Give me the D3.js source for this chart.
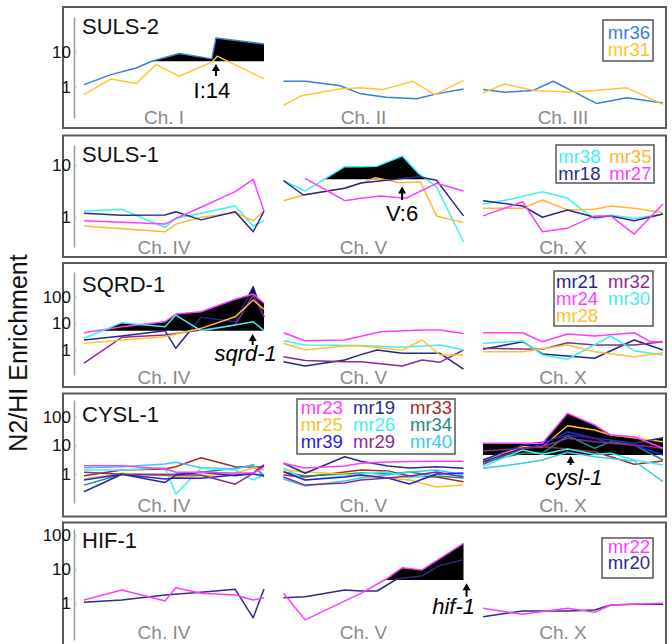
<!DOCTYPE html>
<html><head><meta charset="utf-8">
<script src="https://cdn.jsdelivr.net/npm/d3@7"></script>
<style>body{margin:0;background:#fff}svg{display:block}text{font-family:"Liberation Sans",Arial,Helvetica,sans-serif}</style>
</head><body><svg id="c" width="672" height="644"></svg>
<script>
// ---------------- DATA ----------------
const panelTitles = ["SULS-2", "SULS-1", "SQRD-1", "CYSL-1", "HIF-1"];
const chromLabels = [["Ch. I","Ch. II","Ch. III"],["Ch. IV","Ch. V","Ch. X"],["Ch. IV","Ch. V","Ch. X"],["Ch. IV","Ch. V","Ch. X"],["Ch. IV","Ch. V","Ch. X"]];
const yTickValues = [[1,10],[1,10],[1,10,100],[1,10,100],[1,10,100]];
const thresholds = [5.3, 5.3, 5.3, 4.6, 4.9];
const qtlChrom = [0, 1, 0, 2, 1];
const markerLabels = ["I:14", "V:6", "sqrd-1", "cysl-1", "hif-1"];
const markerItalic = [false, false, true, true, true];
const markerPos = [0.733, 0.659, 0.937, 0.487, 1.017];

const suls2Series = [
  {name:"mr36", color:"#3b7ddd", data:[
    [[0,1.14],[0.15,2.2],[0.29,3.4],[0.376,5.3],[0.53,8.8],[0.71,6.2],[0.733,24.6],[1,16.6]],
    [[0,1.42],[0.12,1.42],[0.31,1.07],[0.43,0.62],[0.57,0.5],[0.74,0.45],[0.85,0.62],[1,0.86]],
    [[0,0.82],[0.12,0.69],[0.28,0.78],[0.39,1.42],[0.5,0.73],[0.63,0.33],[0.8,0.48],[1,0.34]]]},
  {name:"mr31", color:"#ffc629", data:[
    [[0,0.59],[0.15,1.66],[0.29,1.22],[0.40,4.3],[0.53,1.97],[0.71,5.0],[0.74,7.4],[1,1.66]],
    [[0,0.29],[0.1,0.55],[0.31,0.86],[0.43,0.92],[0.55,0.82],[0.72,1.42],[0.84,0.59],[1,1.51]],
    [[0,0.66],[0.12,1.19],[0.28,0.78],[0.5,0.69],[0.8,0.92],[1,0.31]]]}
];

const suls1Series = [
  {name:"mr38", color:"#3ff0f0", data:[
    [[0,1.30],[0.21,1.41],[0.45,0.63],[0.51,0.94],[0.84,1.63],[0.94,0.67],[1,0.85]],
    [[0,5.0],[0.12,3.16],[0.34,9.3],[0.43,9.3],[0.52,9.5],[0.66,14.9],[0.75,6.9],[0.85,3.8],[1,0.33]],
    [[0,1.78],[0.13,2.12],[0.33,3.07],[0.47,2.29],[0.62,0.90],[0.71,1.09],[0.84,0.94],[1,1.14]]]},
  {name:"mr35", color:"#ffb830", data:[
    [[0,0.67],[0.45,0.52],[0.51,0.73],[0.65,0.99],[0.84,1.21],[0.94,0.85],[1,1.30]],
    [[0,2.06],[0.11,2.65],[0.34,3.56],[0.43,4.44],[0.51,5.7],[0.65,4.57],[0.76,4.77],[0.85,1.05],[1,0.78]],
    [[0,1.47],[0.22,1.47],[0.33,2.12],[0.47,1.36],[0.62,1.41],[0.71,1.63],[0.84,1.47],[1,1.21]]]},
  {name:"mr18", color:"#2a2a8a", data:[
    [[0,1.18],[0.21,1.08],[0.45,1.09],[0.51,1.26],[0.65,0.88],[0.84,1.26],[0.94,0.52],[1,1.30]],
    [[0,5.0],[0.11,2.65],[0.34,3.56],[0.43,4.5],[0.75,5.95],[0.85,5.1],[1,1.05]],
    [[0,2.06],[0.22,1.63],[0.33,0.99],[0.47,1.36],[0.62,0.99],[0.71,1.05],[0.84,0.85],[1,1.14]]]},
  {name:"mr27", color:"#ff3cff", data:[
    [[0,0.85],[0.45,0.73],[0.51,0.94],[0.65,1.54],[0.84,3.07],[0.94,5.3],[1,1.30]],
    [[0.12,5.55],[0.34,2.06],[0.43,2.29],[0.54,2.53],[0.68,2.29],[0.85,4.44],[1,3.16]],
    [[0,1.05],[0.22,1.97],[0.33,0.52],[0.47,0.61],[0.62,1.05],[0.71,1.05],[0.84,0.47],[1,1.78]]]}
];

const sqrd1Series = [
  {name:"mr21", color:"#24248a", data:[
    [[0,2.37],[0.21,3.35],[0.45,5.3],[0.51,1.16],[0.65,16.8],[0.84,11.5],[0.94,237],[1,16.8]],
    [[0,0.36],[0.12,0.25],[0.34,0.42],[0.43,0.67],[0.52,1.0],[0.66,0.75],[0.77,0.75],[0.87,0.75],[1,0.19]],
    [[0,1.06],[0.22,2.05],[0.33,0.71],[0.62,0.49],[0.84,2.37],[1,1.0]]]},
  {name:"mr32", color:"#8e2a8e", data:[
    [[0,0.32],[0.21,3.0],[0.45,3.65],[0.65,5.6],[0.84,8.7],[0.94,116],[1,17.7]],
    [[0,0.56],[0.12,0.40],[0.34,0.36],[0.43,0.36],[0.66,0.25],[0.77,0.42],[0.87,0.35],[1,1.0]],
    [[0,1.16],[0.33,1.06],[0.47,1.88],[0.62,1.54],[0.84,1.54],[1,2.05]]]},
  {name:"mr24", color:"#ff3cff", data:[
    [[0,4.45],[0.21,7.5],[0.45,11.5],[0.51,22.4],[0.65,27.3],[0.84,80],[0.94,126],[1,57]],
    [[0,4.45],[0.12,2.23],[0.34,2.37],[0.43,3.27],[0.54,4.86],[0.77,5.6],[0.87,5.6],[1,4.2]],
    [[0,4.45],[0.22,4.45],[0.33,2.05],[0.47,3.98],[0.62,3.35],[0.84,4.45],[0.93,2.05],[1,2.05]]]},
  {name:"mr30", color:"#3ff0f0", data:[
    [[0,2.75],[0.21,10.6],[0.45,7.5],[0.51,20.5],[0.65,5.3],[0.84,8.7],[0.94,11.5],[1,5.3]],
    [[0,2.23],[0.12,1.54],[0.43,1.47],[0.66,1.26],[0.87,1.54],[1,1.0]],
    [[0,1.78],[0.22,2.18],[0.33,0.65],[0.47,0.45],[0.71,3.35],[0.84,0.94],[1,0.65]]]},
  {name:"mr28", color:"#ffc12e", data:[
    [[0,1.78],[0.21,2.37],[0.45,3.16],[0.65,6.5],[0.84,17.7],[0.94,75],[1,33.7]],
    [[0,1.78],[0.12,1.0],[0.34,1.41],[0.43,1.41],[0.66,1.0],[0.77,2.37],[0.87,0.65],[1,0.65]],
    [[0,0.86],[0.22,0.86],[0.47,1.54],[0.62,0.86],[0.84,0.56],[1,0.79]]]}
];

// CYSL-1: shared marker positions per chromosome
const cyslPositions = [[0,0.21,0.45,0.51,0.65,0.84,0.94,1],[0,0.12,0.34,0.43,0.58,0.7,0.85,1],[0,0.22,0.33,0.47,0.62,0.71,0.84,1]];
const mr23Values = [[1.95,1.95,1.49,1.15,1.15,1.08,1.08,1.75],[2.36,1.62,1.9,2.36,2.6,2.7,2.8,2.8],[11.7,11.7,11.7,130,51,22.8,19.9,7.9]];
const mr19Values = [[0.24,0.98,0.51,0.92,1.15,0.87,1.08,2.06],[2.36,1.06,4.0,2.8,1.9,1.62,1.8,1.58],[3.07,10.2,12.7,22.8,17.5,15.3,11.7,18.4]];
const mr33Values = [[0.87,1.38,1.49,1.8,3.7,1.8,1.75,1.8],[0.92,0.79,1.17,1.38,1.27,0.85,0.79,0.54],[2.18,7.9,8.9,7.4,6.0,4.0,2.18,2.84]];
const mr25Values = [[0.67,1.06,0.87,0.8,0.85,1.06,1.66,1.38],[1.38,1.17,1.0,0.85,0.73,0.62,0.35,0.41],[3.07,8.9,8.9,48,34,22.8,18.4,13.4]];
const mr26Values = [[1.38,1.38,1.66,0.2,1.58,1.38,0.62,0.92],[1.62,0.62,0.85,1.0,1.17,0.73,1.0,0.85],[1.8,6.9,4.9,7.4,4.9,5.3,3.07,2.06]];
const mr34Values = [[0.41,0.98,0.98,1.0,1.15,1.58,2.06,0.8],[1.17,0.85,1.0,1.08,1.0,1.17,0.85,0.73],[2.56,5.3,5.3,21.6,7.9,13.4,10.2,3.07]];
const mr39Values = [[0.62,0.98,0.67,0.73,0.71,0.92,1.0,0.87],[1.2,0.62,0.79,0.92,0.73,0.45,1.0,1.08],[2.68,7.9,10.2,29.8,17.5,11.7,10.2,4.6]];
const mr29Values = [[1.15,0.98,0.92,0.92,0.92,0.44,1.06,2.06],[0.79,0.41,0.49,0.62,0.73,0.85,1.17,0.79],[6.3,7.9,8.9,17.5,13.4,11.7,10.2,7.9]];
const mr40Values = [[1.66,1.8,2.23,2.55,1.66,1.49,2.06,0.92],[0.67,0.38,0.57,0.73,0.92,1.17,1.38,0.92],[1.58,2.36,3.07,5.7,4.0,3.5,2.84,0.54]];
const cyslNames = ["mr33","mr34","mr40","mr26","mr25","mr39","mr29","mr19","mr23"];
const cyslColors = ["#a52a2a","#1f8a7f","#3cc8f5","#3ff0f0","#ffc020","#2222ee","#8e2a8e","#2b2b8c","#ff3cff"];
const cyslValues = [mr33Values,mr34Values,mr40Values,mr26Values,mr25Values,mr39Values,mr29Values,mr19Values,mr23Values];
const cysl1Series = cyslNames.map((n,i) => ({name:n, color:cyslColors[i],
  data: cyslValues[i].map((vals,c) => vals.map((v,k) => [cyslPositions[c][k], v]))}));

const hif1Series = [
  {name:"mr20", color:"#2b2b8c", data:[
    [[0,1.08],[0.21,1.27],[0.45,1.78],[0.65,2.14],[0.84,2.61],[0.94,0.38],[1,2.67]],
    [[0,1.48],[0.12,1.58],[0.34,2.49],[0.43,2.33],[0.52,2.33],[0.63,5.25],[0.77,6.5],[0.86,12.6],[1,19.5]],
    [[0,0.41],[0.22,0.60],[0.47,0.60],[0.62,0.64],[0.71,0.90],[0.84,0.95],[1,0.95]]]},
  {name:"mr22", color:"#ff3cff", data:[
    [[0,1.27],[0.21,2.5],[0.45,1.18],[0.51,2.92],[0.65,1.99],[0.84,1.78],[0.94,1.27],[1,1.48]],
    [[0,1.99],[0.12,0.33],[0.43,1.99],[0.57,5.25],[0.66,11.3],[0.77,9.7],[1,58.8]],
    [[0,0.72],[0.22,0.48],[0.47,0.72],[0.62,0.55],[0.71,0.90],[1,1.01]]]}
];

const panelSeries = [suls2Series, suls1Series, sqrd1Series, cysl1Series, hif1Series];
const legendGrid = [["mr36","mr31"],["mr38","mr35","mr18","mr27"],["mr21","mr32","mr24","mr30","mr28"],
  ["mr23","mr19","mr33","mr25","mr26","mr34","mr39","mr29","mr40"],["mr22","mr20"]];

// ---------------- LAYOUT ----------------
const W = 672, H = 644;
const boxLeft = 63, boxRight = 666;
const boxTop = [7,135.5,263,393.5,522.5], boxBottom = [128,257,387,516.5,652];
const axisTop = [17,145,272,400,529], axisBottom = [118,247,375,503,640];
const y1px = [86.6,217,350,474,603.5], decPx = [35,52,26.65,28.7,34];
const titleBase = [34,162.3,292,422.3,548.3];
const chromLabelY = [123.5,254,384,512,639];
const legendBox = [[603,20,50,41],[556,145,98,38],[554,271,99,55],[297,399,158,55],[602,538,51,40]];
const legendCols = [[650],[558.3,609.3],[556,608],[300.7,353,410],[650]];
const legendAnchor = ["end","start","start","start","end"];
const legendRow0 = [38.8,162.8,288,414,552.5];
const legendStep = [16.7,16.7,17,17,16];
const arrowBottom = [76,200,345,465,596.7], arrowHead = [64,186.5,334,456,583.3];
const markerTextDx = [-4,0,-7,3,-13], markerTextY = [98,220.7,360.7,485,614];

const svg = d3.select("#c");
svg.append("rect").attr("width",W).attr("height",H).attr("fill","#fff");

const xBand = d3.scaleBand().domain([0,1,2]).range([84,663]).paddingInner(0.0977);

function interpLog(pts, x){
  const n = pts.length;
  if (x < pts[0][0]-1e-9 || x > pts[n-1][0]+1e-9) return null;
  for (let i=0;i<n-1;i++){
    const a=pts[i], b=pts[i+1];
    if (x >= a[0]-1e-9 && x <= b[0]+1e-9){
      const t = b[0]===a[0] ? 0 : (x-a[0])/(b[0]-a[0]);
      return Math.exp(Math.log(a[1]) + t*(Math.log(b[1])-Math.log(a[1])));
    }
  }
  return pts[n-1][1];
}

svg.append("text").attr("transform","translate(27,353) rotate(-90)")
  .attr("text-anchor","middle").attr("font-size",25).attr("fill","#111").text("N2/HI Enrichment");

panelTitles.forEach((title, p) => {
  const g = svg.append("g");
  g.append("rect").attr("x",boxLeft).attr("y",boxTop[p]).attr("width",boxRight-boxLeft)
    .attr("height",boxBottom[p]-boxTop[p]).attr("fill","#fff").attr("stroke","#5a5a5a").attr("stroke-width",2);

  const lo = Math.pow(10,(y1px[p]-axisBottom[p])/decPx[p]);
  const hi = Math.pow(10,(y1px[p]-axisTop[p])/decPx[p]);
  const y = d3.scaleLog().domain([lo,hi]).range([axisBottom[p],axisTop[p]]);

  const ax = g.append("g").attr("transform","translate(74,0)")
    .call(d3.axisLeft(y).tickValues(yTickValues[p]).tickFormat(d3.format("d")).tickSizeInner(-3).tickSizeOuter(0).tickPadding(3));
  ax.select(".domain").attr("stroke","#999").attr("stroke-width",1.5);
  ax.selectAll(".tick line").attr("stroke","#bbb");
  ax.selectAll(".tick text").attr("font-size",17).attr("fill","#111").attr("font-family","Liberation Sans, Arial, sans-serif");

  g.append("text").attr("x",82).attr("y",titleBase[p]).attr("font-size",22).attr("fill","#111").text(title);

  const series = panelSeries[p];
  // QTL fill: between threshold and the upper envelope of all strains, where it exceeds the threshold
  const c = qtlChrom[p];
  const xc = d3.scaleLinear().domain([0,1]).range([xBand(c), xBand(c)+xBand.bandwidth()]);
  const xsSet = new Set(d3.range(0,1.00001,0.001).map(v=>+v.toFixed(4)));
  series.forEach(s => s.data[c].forEach(d => xsSet.add(d[0])));
  const xs = Array.from(xsSet).sort((a,b)=>a-b);
  const env = [];
  xs.forEach(x => {
    let m = null;
    series.forEach(s => { const v = interpLog(s.data[c], x); if (v!==null && (m===null || v>m)) m = v; });
    if (m!==null) env.push([x,m]);
  });
  const thr = thresholds[p];
  const thrY = y(thr);
  g.append("path").datum(env)
    .attr("d", d3.area().x(d=>xc(d[0])).y0(thrY).y1(d=>y(Math.max(d[1],thr))))
    .attr("fill","#000");

  // lines
  [0,1,2].forEach(ci => {
    const xs2 = d3.scaleLinear().domain([0,1]).range([xBand(ci), xBand(ci)+xBand.bandwidth()]);
    const line = d3.line().x(d=>xs2(d[0])).y(d=>y(d[1]));
    series.forEach(s => {
      g.append("path").datum(s.data[ci]).attr("d",line).attr("fill","none")
        .attr("stroke",s.color).attr("stroke-width",1.5).attr("stroke-linejoin","round");
    });
    g.append("text").attr("x",xBand(ci)+xBand.bandwidth()/2-10).attr("y",chromLabelY[p])
      .attr("text-anchor","middle").attr("font-size",19).attr("fill","#8a8a8a").text(chromLabels[p][ci]);
  });

  // marker arrow
  const ax0 = xc(markerPos[p]);
  g.append("line").attr("x1",ax0).attr("x2",ax0).attr("y1",arrowBottom[p]).attr("y2",arrowHead[p]+5)
    .attr("stroke","#000").attr("stroke-width",2);
  g.append("path").attr("d",`M${ax0-4},${arrowHead[p]+7}L${ax0+4},${arrowHead[p]+7}L${ax0},${arrowHead[p]}Z`).attr("fill","#000");
  g.append("text").attr("x",ax0+markerTextDx[p]).attr("y",markerTextY[p]).attr("text-anchor","middle")
    .attr("font-size",22).attr("font-style",markerItalic[p]?"italic":"normal").attr("fill","#000").text(markerLabels[p]);

  // legend
  const lb = legendBox[p];
  g.append("rect").attr("x",lb[0]).attr("y",lb[1]).attr("width",lb[2]).attr("height",lb[3])
    .attr("fill","#fff").attr("stroke","#555").attr("stroke-width",1.5);
  const ncol = legendCols[p].length;
  legendGrid[p].forEach((name,i) => {
    const s = series.find(d => d.name===name);
    g.append("text").attr("x",legendCols[p][i%ncol]).attr("y",legendRow0[p]+Math.floor(i/ncol)*legendStep[p])
      .attr("text-anchor",legendAnchor[p]).attr("font-size",18.5).attr("fill",s.color).text(name);
  });
});
</script></body></html>
